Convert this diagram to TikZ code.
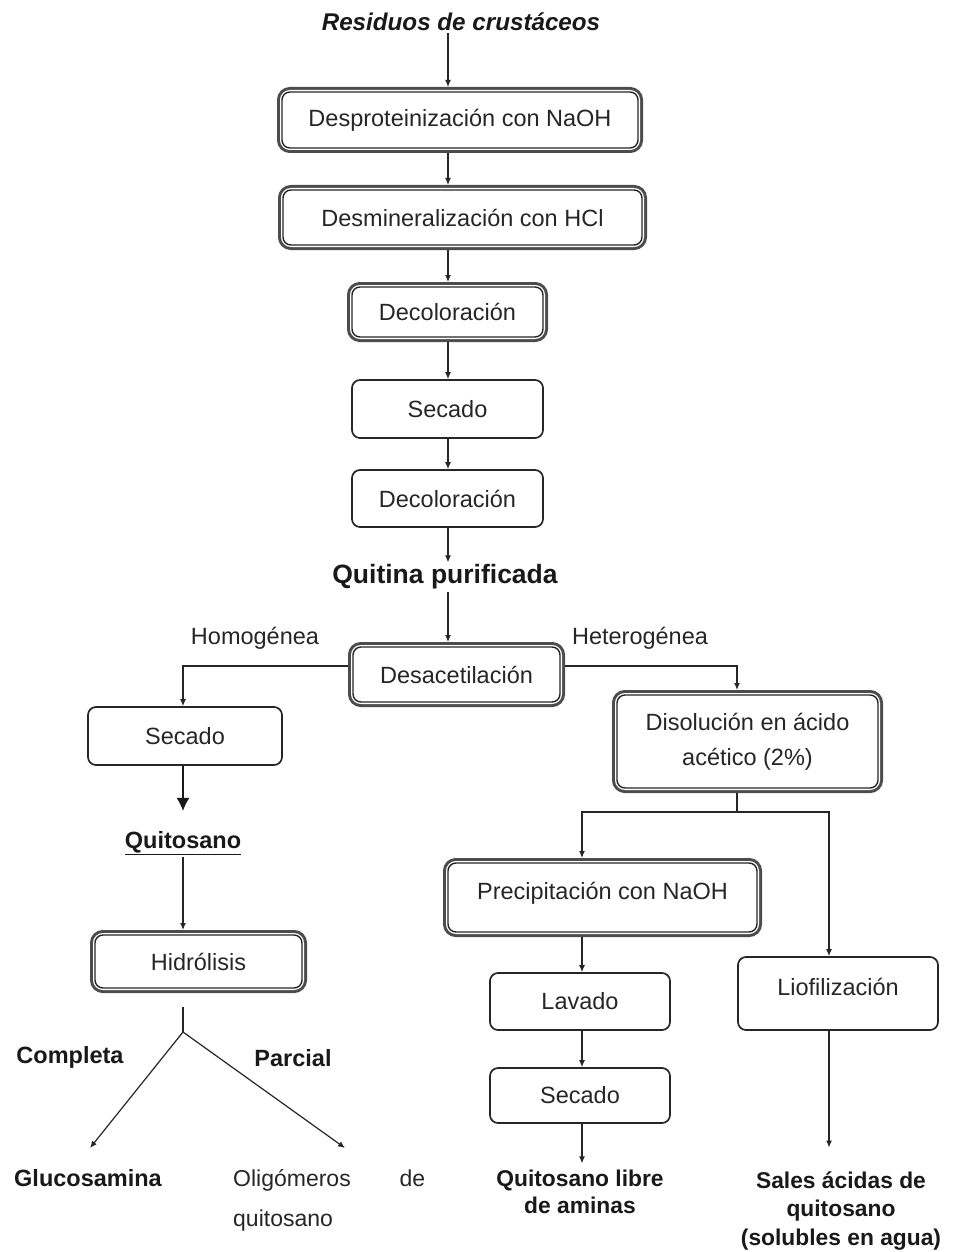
\documentclass[tikz,border=0pt]{standalone}
\usepackage{fontspec}
\setmainfont{Liberation Sans}
\usetikzlibrary{arrows.meta}
\begin{document}
\begin{tikzpicture}[x=1pt,y=-1pt,
  txt/.style={font=\fontsize{23.5}{28}\selectfont, text=black!85, inner sep=2pt},
  boldtxt/.style={font=\fontsize{23.5}{28}\selectfont\bfseries, text=black!90, inner sep=2pt, align=center},
  box/.style={draw=black!85, line width=1.7pt, rounded corners=8pt, fill=white, txt, align=center, inner sep=0pt},
  dbox/.style={box, line width=1.4pt, preaction={draw=black!70, line width=10pt}, preaction={draw=white, line width=4pt}, outer sep=5pt},
  arr/.style={-{Latex[length=7pt,width=6pt]}, line width=1.2pt, draw=black!85},
  bigarr/.style={-{Latex[length=13pt,width=13pt]}, line width=1.6pt, draw=black!90},
  plain/.style={line width=1.2pt, draw=black!85}]
\useasboundingbox (0,0) rectangle (979,1252);
\fill[white] (0,0) rectangle (979,1252);

% nodes
\node[boldtxt, font=\fontsize{24.2}{28}\selectfont\bfseries\itshape] (res) at (461,22) {Residuos de crustáceos};
\node[dbox, minimum width=356pt, minimum height=56pt] (desp) at (460,120) {Desproteinización con NaOH};
\node[dbox, minimum width=359pt, minimum height=55pt] (desm) at (462.5,217.5) {Desmineralización con HCl};
\node[dbox, minimum width=191pt, minimum height=50pt] (deco1) at (447.5,312) {Decoloración};
\node[box, minimum width=191pt, minimum height=58pt] (sec1) at (447.5,409) {Secado};
\node[box, minimum width=191pt, minimum height=57pt] (deco2) at (447.5,498.5) {Decoloración};
\node[boldtxt, font=\fontsize{26.5}{30}\selectfont\bfseries] (quit) at (445,577) {Quitina purificada};
\node[dbox, minimum width=207pt, minimum height=55pt] (desac) at (456.5,674.5) {Desacetilación};
\node[box, minimum width=194pt, minimum height=58pt] (sec2) at (185,736) {Secado};
\node[boldtxt] (qsano) at (183,843) {\underline{Quitosano}};
\node[dbox, minimum width=207pt, minimum height=53pt] (hidr) at (198.5,961.5) {Hidrólisis};
\node[dbox, minimum width=261pt, minimum height=93pt, font=\fontsize{23.5}{35}\selectfont] (diso) at (747.5,741.5) {Disolución en ácido\\acético (2\%)};
\node[dbox, minimum width=309pt, minimum height=69pt, text depth=14pt] (prec) at (602.5,897.5) {Precipitación con NaOH};
\node[box, minimum width=180pt, minimum height=57pt] (lav) at (580,1001.5) {Lavado};
\node[box, minimum width=180pt, minimum height=55pt] (sec3) at (580,1095.5) {Secado};
\node[box, minimum width=200pt, minimum height=73pt, text depth=14pt] (lio) at (838,993.5) {Liofilización};

\node[txt] (homo) at (255,638) {Homogénea};
\node[txt] (hetero) at (640,638) {Heterogénea};
\node[boldtxt] (comp) at (70,1057) {Completa};
\node[boldtxt] (parc) at (293,1058) {Parcial};
\node[boldtxt] (gluc) at (88,1178) {Glucosamina};
\node[txt, font=\fontsize{23}{40}\selectfont, text width=192pt, align=left, inner sep=0pt, anchor=base west] (olig) at (233,1186) {Oligómeros\hfill de\\quitosano};
\node[boldtxt, font=\fontsize{22.8}{27}\selectfont\bfseries] (qlib) at (580,1191.5) {Quitosano libre\\de aminas};
\node[boldtxt, font=\fontsize{22.8}{28.5}\selectfont\bfseries] (sales) at (841,1211) {Sales ácidas de\\quitosano\\(solubles en agua)};

% reference coordinates
\coordinate (ax) at (448,0);
\coordinate (lx) at (183,0);
\coordinate (rx) at (737,0);
\coordinate (hy) at (0,666);
\coordinate (px) at (582,0);
\coordinate (f1) at (183,1032);
\coordinate (gt) at (90,1148);
\coordinate (ot) at (345,1148);
\coordinate (sp) at (737,812);
\coordinate (pl) at (582,812);
\coordinate (pr) at (829,812);

% connectors
\draw[arr] (res.south -| ax) -- (desp.north -| ax);
\draw[arr] (desp.south -| ax) -- (desm.north -| ax);
\draw[arr] (desm.south -| ax) -- (deco1.north -| ax);
\draw[arr] (deco1.south -| ax) -- (sec1.north -| ax);
\draw[arr] (sec1.south -| ax) -- (deco2.north -| ax);
\draw[arr] (deco2.south -| ax) -- (quit.north -| ax);
\draw[arr] (quit.south -| ax) -- (desac.north -| ax);

\draw[arr] (desac.west |- hy) -| (sec2.north -| lx);
\draw[arr] (desac.east |- hy) -| (diso.north -| rx);

\draw[bigarr, shorten >=18pt] (sec2.south -| lx) -- (qsano.north -| lx);
\draw[arr] (qsano.south -| lx) -- (hidr.north -| lx);
\draw[plain, shorten <=14pt] (hidr.south -| lx) -- (f1);
\draw[arr] (f1) -- (gt);
\draw[arr] (f1) -- (ot);

\draw[plain] (diso.south -| sp) -- (sp);
\draw[arr] (sp) -- (pl) -- (prec.north -| pl);
\draw[arr] (sp) -- (pr) -- (lio.north -| pr);
\draw[arr] (prec.south -| px) -- (lav.north -| px);
\draw[arr] (lav.south -| px) -- (sec3.north -| px);
\draw[arr, shorten >=4pt] (sec3.south -| px) -- (qlib.north -| px);
\draw[arr, shorten >=22pt] (lio.south -| pr) -- (sales.north -| pr);
\end{tikzpicture}
\end{document}
